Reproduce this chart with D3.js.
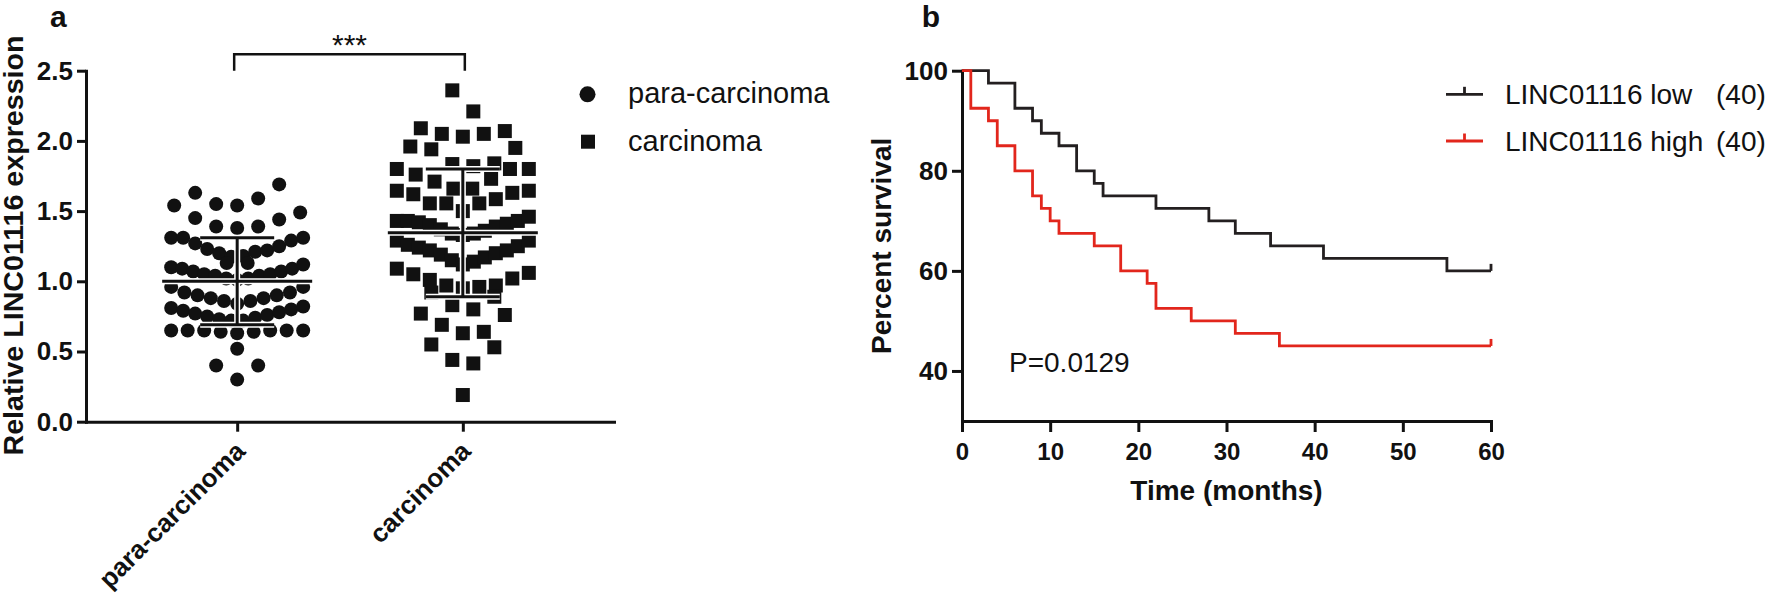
<!DOCTYPE html>
<html><head><meta charset="utf-8">
<script src="https://cdn.jsdelivr.net/npm/d3@7"></script>
<style>
body{margin:0;background:#fff;}
svg{display:block;font-family:"Liberation Sans",Arial,sans-serif;}
</style>
</head><body>
<svg id="c" width="1769" height="598"></svg>
<script>
// ---------------- DATA ----------------
const groups = ["para-carcinoma", "carcinoma"];
// Column-scatter rows (GraphPad layout), values listed left to right within each row
const paraRows = [
  [1.54, 1.63, 1.55, 1.54, 1.59, 1.69, 1.49],
  [1.45, 1.39, 1.38, 1.39, 1.44],
  [1.31, 1.31, 1.27, 1.23, 1.20, 1.175, 1.18, 1.21, 1.22, 1.25, 1.29, 1.31],
  [1.13, 1.13],
  [1.10, 1.09, 1.07, 1.05, 1.04, 1.02, 1.01, 1.02, 1.04, 1.05, 1.07, 1.09, 1.12],
  [0.96, 0.92, 0.90, 0.88, 0.86, 0.84, 0.86, 0.88, 0.90, 0.92, 0.96],
  [0.81, 0.79, 0.77, 0.75, 0.73, 0.72, 0.72, 0.74, 0.76, 0.78, 0.80, 0.82],
  [0.65, 0.65, 0.65, 0.64, 0.63, 0.64, 0.65, 0.65, 0.65],
  [0.52],
  [0.40, 0.30, 0.40]
];
const carRows = [
  [2.36, 2.21],
  [2.09, 2.05, 2.03, 2.05, 2.07],
  [1.96, 1.94, 1.835, 1.82, 1.84, 1.95],
  [1.80, 1.76, 1.71, 1.66, 1.66, 1.73, 1.80, 1.80],
  [1.645, 1.62, 1.555, 1.555, 1.50, 1.555, 1.585, 1.63, 1.645],
  [1.43, 1.43, 1.42, 1.40, 1.37, 1.34, 1.33, 1.34, 1.36, 1.39, 1.41, 1.43, 1.46],
  [1.29, 1.26, 1.24, 1.22, 1.19, 1.15, 1.12, 1.14, 1.17, 1.20, 1.22, 1.25, 1.29],
  [1.09, 1.05, 1.01, 0.97, 0.95, 0.96, 0.97, 1.02, 1.06],
  [0.92, 0.83, 0.80, 0.89],
  [0.77, 0.69, 0.63, 0.64, 0.76],
  [0.55, 0.44, 0.415, 0.53],
  [0.19]
];
const groupMean = [1.00, 1.345];
const groupSD   = [0.31, 0.455];
const yTicksA = [0, 0.5, 1.0, 1.5, 2.0, 2.5];
const sigLabel = "***";

// Kaplan-Meier (percent survival vs months)
const lowTimes  = [0, 3, 6, 8, 9, 11, 13, 15, 16, 22, 28, 31, 35, 41, 55, 60];
const lowSurv   = [100, 97.5, 92.5, 90, 87.5, 85, 80, 77.5, 75, 72.5, 70, 67.5, 65, 62.5, 60, 60];
const highTimes = [0, 1, 3, 4, 6, 8, 9, 10, 11, 15, 18, 21, 22, 26, 31, 36, 60];
const highSurv  = [100, 92.5, 90, 85, 80, 75, 72.5, 70, 67.5, 65, 60, 57.5, 52.5, 50, 47.5, 45, 45];
const lowCensor = [60], highCensor = [60];
const seriesNames = ["LINC01116 low", "LINC01116 high"];
const seriesN = ["(40)", "(40)"];
const xTicksB = [0, 10, 20, 30, 40, 50, 60];
const yTicksB = [40, 60, 80, 100];
const pText = "P=0.0129";

// ---------------- DRAW ----------------
const INK = "#111";
const RED = "#e2261c";
const FONT = '"Liberation Sans", Arial, sans-serif';
const svg = d3.select("#c");

function styleAxis(g, size) {
  g.attr("font-family", null).attr("font-size", null);
  g.select(".domain").attr("stroke", INK).attr("stroke-width", 3).attr("stroke-linecap", "square");
  g.selectAll(".tick line").attr("stroke", INK).attr("stroke-width", 3);
  g.selectAll(".tick text").attr("fill", INK)
    .style("font-family", FONT).style("font-size", size + "px").style("font-weight", "bold");
}

// ---- Panel a ----
const yA = d3.scaleLinear().domain([0, 2.5]).range([421.7, 70.7]);
const xA = d3.scalePoint().domain(groups).range([86, 614]).padding(0.67);

svg.append("text").attr("x", 50).attr("y", 27).text("a")
  .style("font-size", "30px").style("font-weight", "bold").attr("fill", INK);

const gyA = svg.append("g").attr("transform", "translate(86,0)")
  .call(d3.axisLeft(yA).tickValues(yTicksA).tickFormat(d3.format(".1f")).tickSize(9).tickSizeOuter(0).tickPadding(4));
styleAxis(gyA, 26);

const gxA = svg.append("g").attr("transform", "translate(0,421.7)")
  .call(d3.axisBottom(xA).tickSize(10).tickSizeOuter(0));
styleAxis(gxA, 26);
gxA.selectAll(".tick text").attr("x", null).attr("y", null).attr("dy", null)
  .attr("text-anchor", "end").attr("transform", "translate(9,31) rotate(-45)");

svg.append("text").attr("transform", "translate(23," + ((34 + 457) / 2) + ") rotate(-90)")
  .attr("text-anchor", "middle").text("Relative LINC01116 expression")
  .style("font-size", "27px").style("font-weight", "bold").attr("fill", INK)
  .attr("textLength", 420).attr("lengthAdjust", "spacingAndGlyphs");

// scatter layout
function layout(rows, cx) {
  const pts = [];
  rows.forEach(row => {
    const n = row.length;
    const sp = n > 1 ? Math.min(21, 132 / (n - 1)) : 0;
    row.forEach((v, i) => pts.push({ x: cx + (i - (n - 1) / 2) * sp, v }));
  });
  return pts;
}
const paraPts = layout(paraRows, xA(groups[0]));
const carPts = layout(carRows, xA(groups[1]));

svg.append("g").selectAll("circle").data(paraPts).join("circle")
  .attr("cx", d => d.x).attr("cy", d => yA(d.v)).attr("r", 7).attr("fill", INK);
svg.append("g").selectAll("rect").data(carPts).join("rect")
  .attr("x", d => d.x - 7).attr("y", d => yA(d.v) - 7).attr("width", 14).attr("height", 14).attr("fill", INK);

// mean +/- SD
groups.forEach((g, i) => {
  const cx = xA(g), m = groupMean[i], s = groupSD[i];
  const segs = [
    [cx - 75, yA(m), cx + 75, yA(m)],
    [cx - 37, yA(m + s), cx + 37, yA(m + s)],
    [cx - 37, yA(m - s), cx + 37, yA(m - s)],
    [cx, yA(m + s), cx, yA(m - s)]
  ];
  [["#fff", 6], [INK, 3]].forEach(([col, w]) => {
    svg.append("g").selectAll("line").data(segs).join("line")
      .attr("x1", d => d[0]).attr("y1", d => d[1]).attr("x2", d => d[2]).attr("y2", d => d[3])
      .attr("stroke", col).attr("stroke-width", w);
  });
});

// significance bracket
const bx1 = xA(groups[0]) - 3, bx2 = xA(groups[1]) + 2;
svg.append("path")
  .attr("d", `M${bx1},${yA(2.5)}V${yA(2.617)}H${bx2}V${yA(2.5)}`)
  .attr("fill", "none").attr("stroke", INK).attr("stroke-width", 2.5);
svg.append("text").attr("x", (bx1 + bx2) / 2).attr("y", 55).attr("text-anchor", "middle")
  .text(sigLabel).style("font-size", "30px").attr("fill", INK);

// legend a
svg.append("circle").attr("cx", 587.5).attr("cy", 94.3).attr("r", 8).attr("fill", INK);
svg.append("rect").attr("x", 581).attr("y", 134.7).attr("width", 14).attr("height", 14).attr("fill", INK);
svg.append("text").attr("x", 628).attr("y", 103).text(groups[0]).style("font-size", "29px").attr("fill", INK);
svg.append("text").attr("x", 628).attr("y", 150.7).text(groups[1]).style("font-size", "29px").attr("fill", INK);

// ---- Panel b ----
const xB = d3.scaleLinear().domain([0, 60]).range([962, 1491]);
const yB = d3.scaleLinear().domain([30, 100]).range([421, 70.7]);

svg.append("text").attr("x", 921.7).attr("y", 27).text("b")
  .style("font-size", "30px").style("font-weight", "bold").attr("fill", INK);

const gyB = svg.append("g").attr("transform", "translate(962,0)")
  .call(d3.axisLeft(yB).tickValues(yTicksB).tickSize(10).tickSizeOuter(0).tickPadding(4));
styleAxis(gyB, 26);
const gxB = svg.append("g").attr("transform", "translate(0,421)")
  .call(d3.axisBottom(xB).tickValues(xTicksB).tickSize(11).tickSizeOuter(0));
styleAxis(gxB, 24);
gxB.selectAll(".tick text").attr("y", 39).attr("dy", null);

svg.append("text").attr("x", xB(30)).attr("y", 500).attr("text-anchor", "middle")
  .text("Time (months)").style("font-size", "28px").style("font-weight", "bold").attr("fill", INK);
svg.append("text").attr("transform", "translate(891," + yB(65) + ") rotate(-90)")
  .attr("text-anchor", "middle").text("Percent survival")
  .style("font-size", "28px").style("font-weight", "bold").attr("fill", INK);

const step = d3.line().x(d => xB(d[0])).y(d => yB(d[1])).curve(d3.curveStepAfter);
const series = [
  { t: lowTimes, s: lowSurv, c: lowCensor, col: "#231f20" },
  { t: highTimes, s: highSurv, c: highCensor, col: RED }
];
series.forEach(sr => {
  const pts = sr.t.map((t, i) => [t, sr.s[i]]);
  svg.append("path").attr("d", step(pts)).attr("fill", "none")
    .attr("stroke", sr.col).attr("stroke-width", 2.8);
  const last = sr.s[sr.s.length - 1];
  svg.append("g").selectAll("line").data(sr.c).join("line")
    .attr("x1", d => xB(d)).attr("x2", d => xB(d))
    .attr("y1", yB(last)).attr("y2", yB(last) - 7)
    .attr("stroke", sr.col).attr("stroke-width", 2.8);
});

svg.append("text").attr("x", 1009).attr("y", 371.5).text(pText).style("font-size", "28px").attr("fill", INK);

// legend b
const legY = [94.3, 141];
series.forEach((sr, i) => {
  svg.append("line").attr("x1", 1446).attr("x2", 1483).attr("y1", legY[i]).attr("y2", legY[i])
    .attr("stroke", sr.col).attr("stroke-width", 2.8);
  svg.append("line").attr("x1", 1464.5).attr("x2", 1464.5).attr("y1", legY[i]).attr("y2", legY[i] - 7.5)
    .attr("stroke", sr.col).attr("stroke-width", 2.8);
  svg.append("text").attr("x", 1505).attr("y", legY[i] + 9.5).text(seriesNames[i])
    .style("font-size", "28px").attr("fill", INK);
  svg.append("text").attr("x", 1716).attr("y", legY[i] + 9.5).text(seriesN[i])
    .style("font-size", "28px").attr("fill", INK);
});
</script>
</body></html>
